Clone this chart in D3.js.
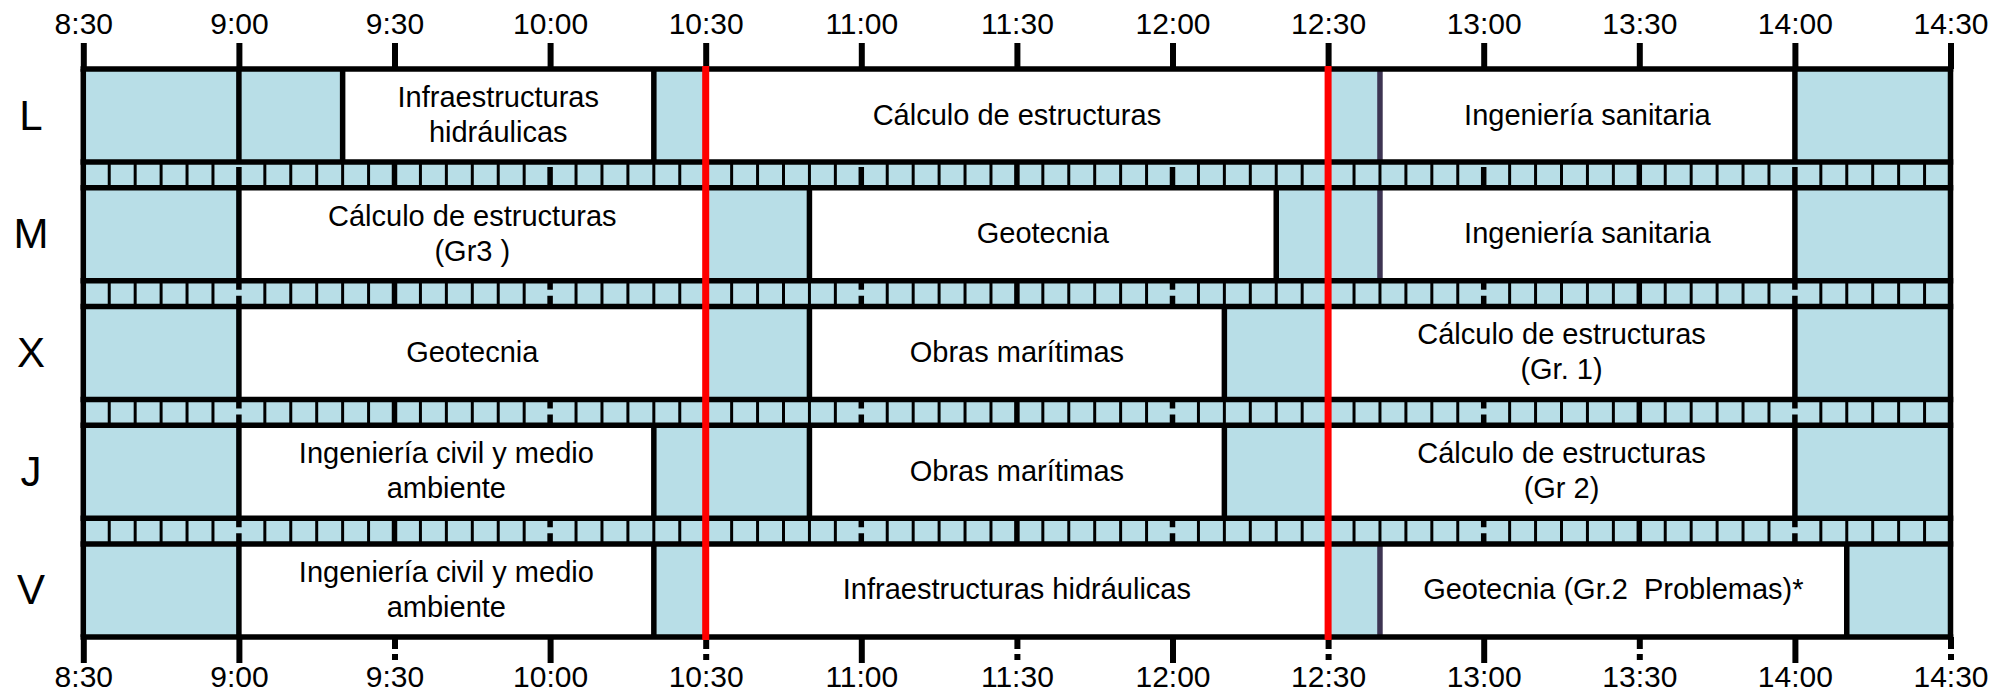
<!DOCTYPE html>
<html lang="es">
<head>
    <meta charset="UTF-8">
    <title>Horario</title>
    <style>
        body {
            margin: 0;
            background-color: #fff;
        }
        svg text {
            font-family: "Liberation Sans", Arial, sans-serif;
            fill: #000;
        }
    </style>
    <script src="https://d3js.org/d3.v7.min.js"></script>
</head>
<body>
    <svg id="chart" width="1992" height="694"></svg>
    <script>
        // Days of the week (rows) and time ticks (columns)
        const days = ["L", "M", "X", "J", "V"];
        const timeTicks = ["8:30", "9:00", "9:30", "10:00", "10:30", "11:00", "11:30",
                           "12:00", "12:30", "13:00", "13:30", "14:00", "14:30"];

        // Blocks per day: [start, end, subject]; null = free slot (blue)
        const lunes = [
            ["8:30", "9:00", null], ["9:00", "9:20", null],
            ["9:20", "10:20", "Infraestructuras\nhidráulicas"], ["10:20", "10:30", null],
            ["10:30", "12:30", "Cálculo de estructuras"], ["12:30", "12:40", null],
            ["12:40", "14:00", "Ingeniería sanitaria"], ["14:00", "14:30", null]
        ];
        const martes = [
            ["8:30", "9:00", null], ["9:00", "10:30", "Cálculo de estructuras\n(Gr3 )"],
            ["10:30", "10:50", null], ["10:50", "12:20", "Geotecnia"],
            ["12:20", "12:40", null], ["12:40", "14:00", "Ingeniería sanitaria"],
            ["14:00", "14:30", null]
        ];
        const miercoles = [
            ["8:30", "9:00", null], ["9:00", "10:30", "Geotecnia"],
            ["10:30", "10:50", null], ["10:50", "12:10", "Obras marítimas"],
            ["12:10", "12:30", null], ["12:30", "14:00", "Cálculo de estructuras\n(Gr. 1)"],
            ["14:00", "14:30", null]
        ];
        const jueves = [
            ["8:30", "9:00", null], ["9:00", "10:20", "Ingeniería civil y medio\nambiente"],
            ["10:20", "10:50", null], ["10:50", "12:10", "Obras marítimas"],
            ["12:10", "12:30", null], ["12:30", "14:00", "Cálculo de estructuras\n(Gr 2)"],
            ["14:00", "14:30", null]
        ];
        const viernes = [
            ["8:30", "9:00", null], ["9:00", "10:20", "Ingeniería civil y medio\nambiente"],
            ["10:20", "10:30", null], ["10:30", "12:30", "Infraestructuras hidráulicas"],
            ["12:30", "12:40", null], ["12:40", "14:10", "Geotecnia (Gr.2  Problemas)*"],
            ["14:10", "14:30", null]
        ];
        const schedule = [lunes, martes, miercoles, jueves, viernes];

        // Red marker lines and the dark edges
        const breakTimes = ["10:30", "12:30"];
        const darkEdgeTimes = ["12:40"];

        const BLUE = "#b8dee7";
        const toMin = s => { const [h, m] = s.split(":").map(Number); return h * 60 + m; };

        const svg = d3.select("#chart");

        const x = d3.scaleLinear()
            .domain([toMin(timeTicks[0]), toMin(timeTicks[timeTicks.length - 1])])
            .range([83.3, 1950.5]);

        const y = d3.scaleBand()
            .domain(days)
            .range([69, 637])
            .paddingInner(0.2168)
            .paddingOuter(0);
        const bw = y.bandwidth();

        // Separator bands between rows (little squares every 5 minutes)
        const bands = days.slice(0, -1).map((d, i) => ({ top: y(d) + bw, bottom: y(days[i + 1]) }));
        const fiveMin = d3.range(toMin("8:35"), toMin("14:30"), 5);

        const band = svg.append("g").attr("class", "bands")
            .selectAll("g").data(bands).enter().append("g");

        band.append("rect")
            .attr("x", x.range()[0])
            .attr("y", d => d.top)
            .attr("width", x.range()[1] - x.range()[0])
            .attr("height", d => d.bottom - d.top)
            .attr("fill", BLUE);

        band.each(function(b, bi) {
            d3.select(this).selectAll("line")
                .data(fiveMin).enter().append("line")
                .attr("x1", d => x(d)).attr("x2", d => x(d))
                .attr("y1", b.top).attr("y2", b.bottom)
                .attr("stroke", "#000")
                .attr("stroke-width", d => d % 30 === 0 ? 5.5 : 3)
                .attr("stroke-dasharray", d => {
                    if (d % 60 !== 0) return null;
                    return bi === 0 ? "0,5,30" : "9,6,30";
                });
        });

        // Cells
        const rows = svg.append("g").attr("class", "rows")
            .selectAll("g").data(schedule).enter().append("g")
            .attr("transform", (d, i) => `translate(0,${y(days[i])})`);

        rows.selectAll("rect")
            .data(d => d).enter().append("rect")
            .attr("x", d => x(toMin(d[0])))
            .attr("y", 0)
            .attr("width", d => x(toMin(d[1])) - x(toMin(d[0])))
            .attr("height", bw)
            .attr("fill", d => d[2] ? "#fff" : BLUE);

        // Vertical edges between cells
        rows.selectAll("line.edge")
            .data(d => d.slice(1)).enter().append("line")
            .attr("class", "edge")
            .attr("x1", d => x(toMin(d[0]))).attr("x2", d => x(toMin(d[0])))
            .attr("y1", 0).attr("y2", bw)
            .attr("stroke", d => darkEdgeTimes.includes(d[0]) ? "#3d3452" : "#000")
            .attr("stroke-width", 5.5);

        // Horizontal rules
        const hLines = [];
        days.forEach(d => { hLines.push(y(d)); hLines.push(y(d) + bw); });
        svg.append("g").selectAll("line")
            .data(hLines).enter().append("line")
            .attr("x1", x.range()[0] - 2.75).attr("x2", x.range()[1] + 2.75)
            .attr("y1", d => d).attr("y2", d => d)
            .attr("stroke", "#000")
            .attr("stroke-width", 5.5);

        // Outer verticals
        svg.append("g").selectAll("line")
            .data(x.range()).enter().append("line")
            .attr("x1", d => d).attr("x2", d => d)
            .attr("y1", 69).attr("y2", 637)
            .attr("stroke", "#000")
            .attr("stroke-width", 5.5);

        // Axes
        const tickVals = timeTicks.map(toMin);
        const topAxis = d3.axisTop(x).tickValues(tickVals)
            .tickFormat((d, i) => timeTicks[i]).tickSize(26).tickPadding(9);
        const bottomAxis = d3.axisBottom(x).tickValues(tickVals)
            .tickFormat((d, i) => timeTicks[i]).tickSize(26).tickPadding(2.5);

        const gTop = svg.append("g").attr("transform", "translate(0,69)").call(topAxis);
        const gBottom = svg.append("g").attr("transform", "translate(0,637)").call(bottomAxis);

        [gTop, gBottom].forEach(g => {
            g.select(".domain").remove();
            g.selectAll(".tick line").attr("stroke", "#000").attr("stroke-width", 6);
            g.selectAll(".tick text")
                .attr("fill", "#000")
                .style("font-family", "'Liberation Sans', Arial, sans-serif")
                .style("font-size", "30px");
        });
        gBottom.selectAll(".tick line")
            .attr("stroke-dasharray", (d, i) => (i > 0 && d % 60 === 30) ? "12,5,6" : null);

        // Red lines
        svg.append("g").selectAll("line")
            .data(breakTimes).enter().append("line")
            .attr("x1", d => x(toMin(d))).attr("x2", d => x(toMin(d)))
            .attr("y1", 66).attr("y2", 640)
            .attr("stroke", "#ff0000")
            .attr("stroke-width", 7);

        // Subject labels
        const labels = rows.selectAll("text.subject")
            .data(d => d.filter(c => c[2])).enter().append("text")
            .attr("class", "subject")
            .attr("text-anchor", "middle")
            .style("font-size", "29px")
            .style("white-space", "pre");

        labels.each(function(d) {
            const lines = d[2].split("\n");
            const cx = (x(toMin(d[0])) + x(toMin(d[1]))) / 2;
            const cy = bw / 2;
            const first = cy + 9 - (lines.length - 1) * 17.5;
            d3.select(this).selectAll("tspan")
                .data(lines).enter().append("tspan")
                .attr("x", cx)
                .attr("y", (l, i) => first + i * 35)
                .text(l => l);
        });

        // Day labels
        svg.append("g").selectAll("text")
            .data(days).enter().append("text")
            .attr("x", 31)
            .attr("y", d => y(d) + bw / 2 + 14)
            .attr("text-anchor", "middle")
            .style("font-size", "42px")
            .text(d => d);
    </script>
</body>
</html>
